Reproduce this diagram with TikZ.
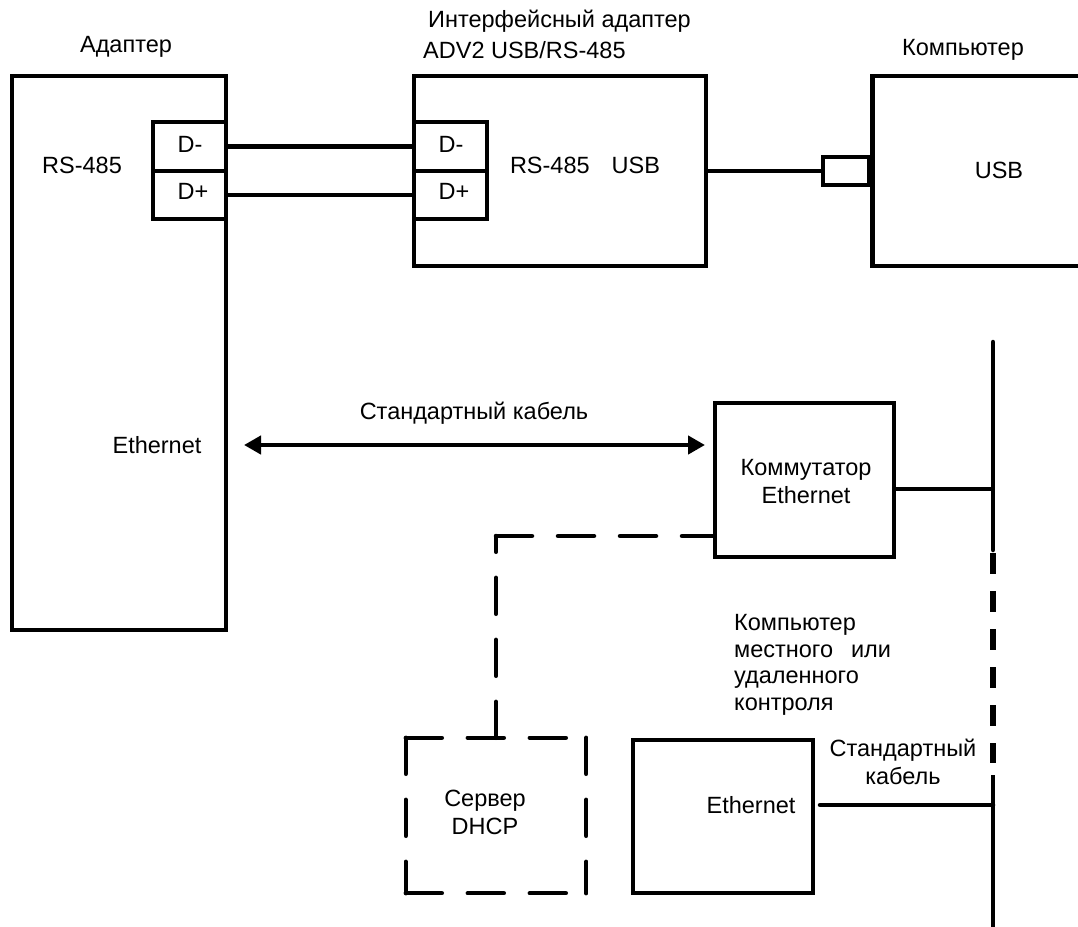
\documentclass[tikz,border=0pt]{standalone}
\usepackage{fontspec}
\setmainfont{Liberation Sans}
\usetikzlibrary{arrows.meta}
\begin{document}
\begin{tikzpicture}[x=1pt,y=-1pt,
  box/.style={draw=black,line width=4.5pt,inner sep=0pt,line join=miter},
  lbl/.style={inner sep=0pt,font=\fontsize{23.5}{28}\selectfont,align=center},
  wire/.style={line width=4.5pt},
  dbox/.style={line width=4.5pt,line cap=round,dash pattern=on 36pt off 26pt},
  busdash/.style={line width=6.5pt,dash pattern=on 21pt off 17pt}]
\clip (0,0) rectangle (1078,926);
\fill[white] (0,0) rectangle (1078,926);
% left adapter
\node[box,minimum width=214pt,minimum height=554pt] (lbox) at (119,353) {};
\node[box,minimum width=73pt,minimum height=49pt] (lDm) at (189.5,146.5) {};
\node[box,minimum width=73pt,minimum height=48pt] (lDp) at (189.5,195) {};
\node[lbl] (tlDm) at (190,144) {D-};
\node[lbl] (tlDp) at (193,191) {D+};
\node[lbl] (tAd) at (126,47) {Адаптер};
\node[lbl] (tRSl) at (82,165) {RS-485};
\node[lbl] (tEthl) at (157,445) {Ethernet};
% interface adapter
\node[box,minimum width=292pt,minimum height=190pt] (mbox) at (560,171) {};
\node[box,minimum width=73pt,minimum height=49pt] (mDm) at (450.5,146.5) {};
\node[box,minimum width=73pt,minimum height=48pt] (mDp) at (450.5,195) {};
\node[lbl] (tmDm) at (451,144) {D-};
\node[lbl] (tmDp) at (454,191) {D+};
\node[lbl,anchor=west] (tIf1) at (428,21) {Интерфейсный адаптер};
\node[lbl,anchor=west] (tIf2) at (423,50) {ADV2 USB/RS-485};
\node[lbl] (tRSm) at (585,165) {RS-485\hspace{22pt}USB};
% computer
\node[box,minimum width=46pt,minimum height=28pt] (usbc) at (846,171) {};
\node[box,minimum width=240pt,minimum height=190pt,anchor=west] (rbox) at (870,171) {};
\node[lbl] (tUSB) at (999,170) {USB};
\node[lbl] (tPC) at (963,50) {Компьютер};
\draw[wire] (lDm.east) -- (mDm.west);
\draw[wire] (lDp.east) -- (mDp.west);
\draw[wire] (mbox.east) -- (usbc.west);
% switch
\node[box,minimum width=179pt,minimum height=154pt] (sw) at (804.5,480) {};
\node[lbl] (tSw) at (806,482) {Коммутатор\\Ethernet};
\coordinate (aL) at (244,445);
\coordinate (aR) at (705,445);
\draw[wire,{Triangle[length=17pt,width=18pt]}-{Triangle[length=17pt,width=18pt]}] (aL) -- (aR);
\node[lbl] (tCab) at (474,413) {Стандартный кабель};
% bus
\coordinate (busTop) at (993,342);
\coordinate (busS1) at (993,550);
\coordinate (busD1) at (993,553);
\coordinate (busD2) at (993,763);
\coordinate (busS2) at (993,775);
\coordinate (busBot) at (993,930);
\draw[wire,line cap=round] (busTop) -- (busS1);
\draw[busdash] (busD1) -- (busD2);
\draw[wire] (busS2) -- (busBot);
\draw[wire] ([yshift=-9pt]sw.east) -- ([yshift=-9pt]sw.east -| busTop);
% DHCP
\node[minimum width=180pt,minimum height=155pt,inner sep=0pt] (dhcp) at (496,815.5) {};
\draw[dbox] (dhcp.north west) -- (dhcp.north east);
\draw[dbox] (dhcp.north west) -- (dhcp.south west);
\draw[dbox] (dhcp.south west) -- (dhcp.south east);
\draw[dbox] (dhcp.north east) -- (dhcp.south east);
\node[lbl] (tDhcp) at (485,812) {Сервер\\DHCP};
\coordinate (dcorner) at (496,536);
\draw[dbox] (dhcp.north) -- (dcorner);
\draw[dbox] (dcorner) -- (dcorner -| sw.west);
% local computer
\node[box,minimum width=180pt,minimum height=153pt] (pc) at (723,816.5) {};
\node[lbl] (tEthb) at (751,805) {Ethernet};
\coordinate (pcL) at (820,805);
\draw[wire,line cap=round] (pcL) -- (pcL -| busTop);
\node[lbl] (tCab2) at (903,762) {Стандартный\\кабель};
\node[lbl,align=left,anchor=north west,font=\fontsize{23.5}{26.7}\selectfont] (tLoc) at (734,614) {Компьютер\\местного\hspace{18pt}или\\удаленного\\контроля};
\end{tikzpicture}
\end{document}
